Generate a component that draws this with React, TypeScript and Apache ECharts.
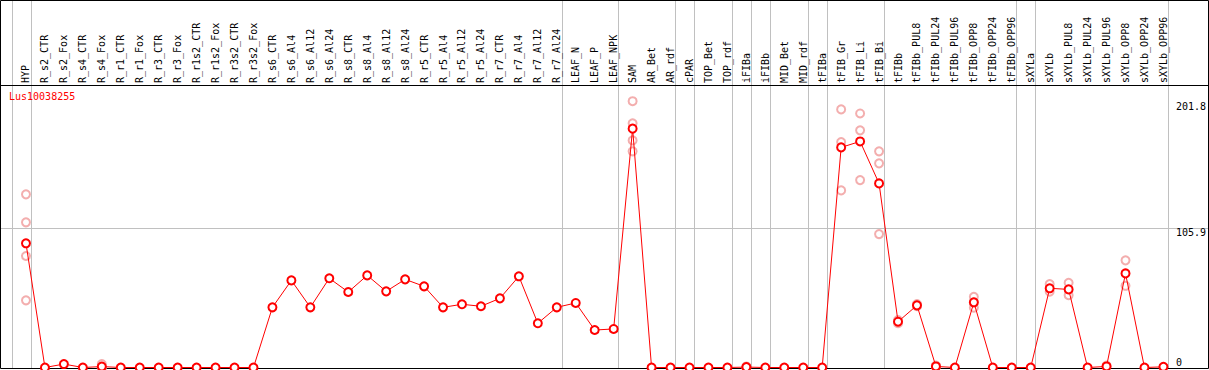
import React, { useEffect, useRef } from "react";
import * as echarts from "echarts";

const title = "Lus10038255";

const categories = [
  "HYP", "R_s2_CTR", "R_s2_Fox", "R_s4_CTR", "R_s4_Fox", "R_r1_CTR", "R_r1_Fox", "R_r3_CTR", "R_r3_Fox",
  "R_r1s2_CTR", "R_r1s2_Fox", "R_r3s2_CTR", "R_r3s2_Fox", "R_s6_CTR", "R_s6_Al4", "R_s6_Al12", "R_s6_Al24",
  "R_s8_CTR", "R_s8_Al4", "R_s8_Al12", "R_s8_Al24", "R_r5_CTR", "R_r5_Al4", "R_r5_Al12", "R_r5_Al24",
  "R_r7_CTR", "R_r7_Al4", "R_r7_Al12", "R_r7_Al24", "LEAF_N", "LEAF_P", "LEAF_NPK", "SAM", "AR_Bet", "AR_rdf",
  "cPAR", "TOP_Bet", "TOP_rdf", "iFIBa", "iFIBb", "MID_Bet", "MID_rdf", "tFIBa", "tFIB_Gr", "tFIB_Li", "tFIB_Bi",
  "tFIBb", "tFIBb_PUL8", "tFIBb_PUL24", "tFIBb_PUL96", "tFIBb_OPP8", "tFIBb_OPP24", "tFIBb_OPP96",
  "sXYLa", "sXYLb", "sXYLb_PUL8", "sXYLb_PUL24", "sXYLb_PUL96", "sXYLb_OPP8", "sXYLb_OPP24", "sXYLb_OPP96",
];

const meanValues = [
  94.1, 0, 2.6, 0, 0.7, 0, 0, 0, 0,
  0, 0, 0, 0, 45.6, 66, 45.6, 67.6,
  57.2, 69.8, 57.7, 66.8, 61.5, 45.6, 47.9, 46.4,
  52.4, 69.1, 33.5, 45.6, 48.9, 28.4, 29.2, 181.0, 0, 0,
  0, 0, 0, 0.3, 0, 0, 0, 0, 166.8, 171.3, 139.5,
  34.7, 47.1, 0.8, 0, 49.4, 0, 0,
  0, 60, 59.2, 0, 0.8, 71.3, 0, 0.5,
];

const replicateValues: number[][] = [
  [131.2, 110, 84.5, 50.9], [], [], [], [2.6, 0, 0], [], [], [], [],
  [], [], [], [], [], [], [], [],
  [], [], [], [], [], [], [], [],
  [], [], [], [], [], [], [], [201.8, 185, 172.1, 163.8], [], [],
  [], [], [], [0.8, 0], [], [], [], [], [195.6, 170.8, 134.2], [192.5, 179.7, 142], [163.8, 154.7, 101.1],
  [36, 33.5], [48, 46.5], [1.5, 0.5], [], [53.6, 45.3, 49.3], [], [],
  [], [63.2, 57.4], [64.2, 54.8], [], [1.5], [81.2, 61.9], [], [],
];

const yUpperTicks = [105.9, 201.8];
const yZeroTick = [0];
const yMax = 211.8;
const midlineValue = 105.9;

// indices of categories after which a group separator is drawn (-1 = before first)
const groupSeparatorsAfter = [-1, 0, 28, 31, 34, 35, 37, 38, 39, 41, 42, 45, 52, 53, 60];

const FONT = "'DejaVu Sans Mono', monospace";

export default function App() {
  const ref = useRef<HTMLDivElement>(null);

  useEffect(() => {
    if (!ref.current) return;
    const chart = echarts.init(ref.current, undefined, { renderer: "svg" });

    const scatterData = replicateValues.flatMap((reps, i) => reps.map((v) => [i, v]));

    chart.setOption({
      animation: false,
      backgroundColor: "#ffffff",
      title: {
        text: title,
        left: 9,
        top: 91,
        padding: 0,
        textStyle: { color: "#ff0000", fontSize: 10, fontWeight: "normal", fontFamily: FONT },
      },
      grid: { left: 16.5, top: 88, width: 1159, height: 279.5, containLabel: false },
      xAxis: {
        type: "category",
        data: categories,
        position: "top",
        offset: 3,
        boundaryGap: true,
        axisLine: { show: false },
        axisTick: { show: false },
        splitLine: { show: false },
        axisLabel: {
          interval: 0,
          rotate: 90,
          margin: 2,
          color: "#000000",
          fontSize: 10,
          fontFamily: FONT,
          hideOverlap: false,
        },
      },
      yAxis: [
        {
          type: "value",
          min: 0,
          max: yMax,
          position: "right",
          axisLine: { show: false },
          axisTick: { show: false },
          splitLine: { show: false },
          axisLabel: {
            customValues: yUpperTicks,
            margin: 3,
            align: "left",
            verticalAlign: "top",
            color: "#000000",
            fontSize: 10,
            fontFamily: FONT,
          },
        },
        {
          type: "value",
          min: 0,
          max: yMax,
          position: "right",
          axisLine: { show: false },
          axisTick: { show: false },
          splitLine: { show: false },
          axisLabel: {
            customValues: yZeroTick,
            margin: 3,
            align: "left",
            verticalAlign: "bottom",
            color: "#000000",
            fontSize: 10,
            fontFamily: FONT,
          },
        },
      ],
      series: [
        {
          type: "scatter",
          data: scatterData,
          symbol: "emptyCircle",
          symbolSize: 8,
          itemStyle: { color: "#f09a9a", borderColor: "#f09a9a", borderWidth: 1.2 },
          z: 2,
        },
        {
          type: "line",
          data: meanValues,
          symbol: "emptyCircle",
          symbolSize: 8,
          lineStyle: { color: "#ff0000", width: 1 },
          itemStyle: { color: "#ff0000", borderColor: "#ee0000", borderWidth: 1.6 },
          z: 3,
        },
      ],
    });

    const cx = (i: number) => chart.convertToPixel({ xAxisIndex: 0 }, categories[i]) as number;
    const band = cx(1) - cx(0);
    const sepX = (after: number) =>
      Math.round((after < 0 ? cx(0) - band : cx(after)) + band / 4) + 0.5;
    const midY = Math.round(chart.convertToPixel({ yAxisIndex: 0 }, midlineValue) as number) + 0.5;

    const graphics: any[] = [];
    groupSeparatorsAfter.forEach((a) => {
      const x = sepX(a);
      graphics.push({
        type: "line",
        shape: { x1: x, y1: 0, x2: x, y2: 369 },
        style: { stroke: "#c0c0c0", lineWidth: 1 },
        silent: true,
        z: -10,
      });
    });
    graphics.push({
      type: "line",
      shape: { x1: 0, y1: midY, x2: 1208, y2: midY },
      style: { stroke: "#c0c0c0", lineWidth: 1 },
      silent: true,
      z: -10,
    });
    graphics.push({
      type: "line",
      shape: { x1: 0, y1: 85.5, x2: 1208, y2: 85.5 },
      style: { stroke: "#000000", lineWidth: 1 },
      silent: true,
      z: -5,
    });
    graphics.push({
      type: "rect",
      shape: { x: 0.5, y: 0.5, width: 1208, height: 368 },
      style: { stroke: "#000000", fill: "none", lineWidth: 1 },
      silent: true,
      z: -5,
    });

    chart.setOption({ graphic: { elements: graphics } });

    return () => chart.dispose();
  }, []);

  return (
    <div
      ref={ref}
      style={{ position: "absolute", left: 0, top: 0, width: 1209, height: 370 }}
    />
  );
}
